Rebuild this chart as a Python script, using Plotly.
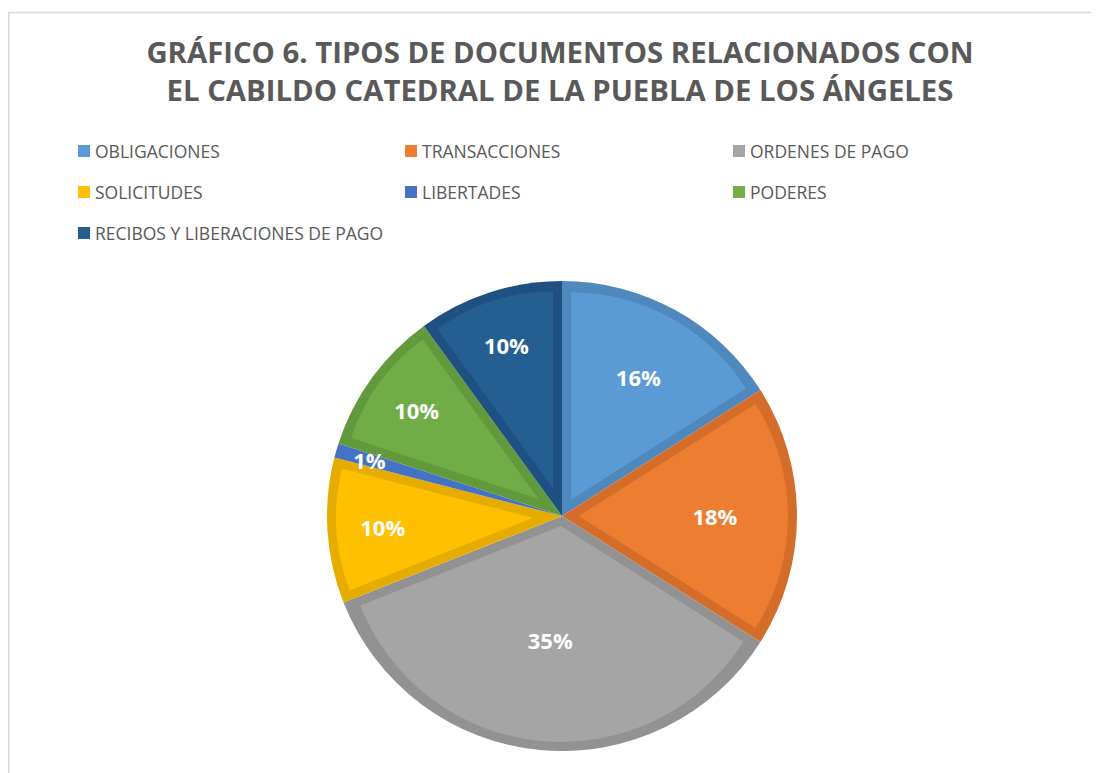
import math
import plotly.graph_objects as go

categories = ["OBLIGACIONES", "TRANSACCIONES", "ORDENES DE PAGO", "SOLICITUDES",
              "LIBERTADES", "PODERES", "RECIBOS Y LIBERACIONES DE PAGO"]
values = [16, 18, 35, 10, 1, 10, 10]
colors = ["#5B9BD5", "#ED7D31", "#A5A5A5", "#FFC000", "#4472C4", "#70AD47", "#255E91"]
border_colors = ["#4F88BD", "#D46D2A", "#929292", "#E6AD00", "#3B64AD", "#62993C", "#1F5082"]
title_lines = ["GRÁFICO 6. TIPOS DE DOCUMENTOS RELACIONADOS CON",
               "EL CABILDO CATEDRAL DE LA PUEBLA DE LOS ÁNGELES"]

W, H = 1099, 773
FONT = "Open Sans"
OFF = 8          # page body margin offset
cx, cy, R = 562 - OFF, 516 - OFF, 235
BORDER = 9       # inner border width of every slice (px)
TRANSP = "rgba(0,0,0,0)"


def dom(r):
    return dict(x=[(cx - r) / W, (cx + r) / W], y=[1 - (cy + r) / H, 1 - (cy - r) / H])


total = sum(values)
n = len(values)
# pull needed so a slice's inner wedge sits BORDER px inside its own edges
pull_d = []
for v in values:
    half = math.pi * v / total
    d = BORDER / math.sin(half)
    pull_d.append(d if d < 0.4 * R else None)

common = dict(labels=categories, values=values, sort=False, direction="clockwise",
              rotation=0, showlegend=False)

fig = go.Figure()
# base pie: border colour (tiny slices keep their own colour)
fig.add_trace(go.Pie(
    **common,
    marker=dict(colors=[bc if d is not None else c
                        for c, bc, d in zip(colors, border_colors, pull_d)],
                line=dict(width=0)),
    textinfo="none",
    domain=dom(R),
    hoverinfo="label+percent",
))

# inner fill of each slice
for i, d in enumerate(pull_d):
    if d is None:
        continue
    r_in = R - BORDER - d
    fig.add_trace(go.Pie(
        **common,
        marker=dict(colors=[colors[i] if j == i else TRANSP for j in range(n)],
                    line=dict(width=0)),
        pull=[d / r_in if j == i else 0 for j in range(n)],
        textinfo="none",
        domain=dom(R - BORDER),
        hoverinfo="skip",
    ))

# percentage labels
label_font = dict(family=FONT, size=22, color="white", weight="bold")
small = [d is None for d in pull_d]
fig.add_trace(go.Pie(
    **common,
    marker=dict(colors=[TRANSP] * n, line=dict(width=0)),
    texttemplate=["" if s else "%{percent:.0%}" for s in small],
    textposition="inside",
    insidetextorientation="horizontal",
    textfont=label_font,
    domain=dom(R),
    hoverinfo="skip",
))
fig.add_trace(go.Pie(
    **common,
    marker=dict(colors=[TRANSP] * n, line=dict(width=0)),
    texttemplate=["%{percent:.0%}" if s else "" for s in small],
    textposition="inside",
    insidetextorientation="horizontal",
    textfont=label_font,
    domain=dom(R * 0.88),
    hoverinfo="skip",
))

# legend (3 columns) built from the category/colour lists
shapes = []
annotations = []
col_x = [78 - OFF, 405 - OFF, 733 - OFF]
row_y = [151 - OFF, 192 - OFF, 233 - OFF]
for i, (lab, col) in enumerate(zip(categories, colors)):
    lx = col_x[i % 3]
    ly = row_y[i // 3]
    shapes.append(dict(type="rect", xref="paper", yref="paper",
                       x0=lx / W, x1=(lx + 12) / W,
                       y0=1 - (ly + 6) / H, y1=1 - (ly - 6) / H,
                       fillcolor=col, line=dict(width=0)))
    annotations.append(dict(text=lab, xref="paper", yref="paper",
                            x=(lx + 15) / W, y=1 - ly / H,
                            xanchor="left", yanchor="middle", showarrow=False,
                            font=dict(family=FONT, size=17.5, color="#595959")))

# chart border
shapes.append(dict(type="rect", xref="paper", yref="paper",
                   x0=0.8 / W, x1=1.02, y0=-0.02, y1=1 - 4.5 / H,
                   line=dict(color="#D9D9D9", width=1.5), fillcolor=TRANSP))

fig.update_layout(
    width=W, height=H,
    margin=dict(l=0, r=0, t=0, b=0),
    paper_bgcolor="white",
    plot_bgcolor="white",
    title=dict(text="<br>".join(title_lines), x=552 / W, xanchor="center",
               y=1 - 55 / H, yanchor="top",
               font=dict(family=FONT, size=29.3, color="#595959", weight="bold")),
    uniformtext=dict(minsize=22, mode="show"),
    shapes=shapes,
    annotations=annotations,
)

fig.write_html("out.html")
